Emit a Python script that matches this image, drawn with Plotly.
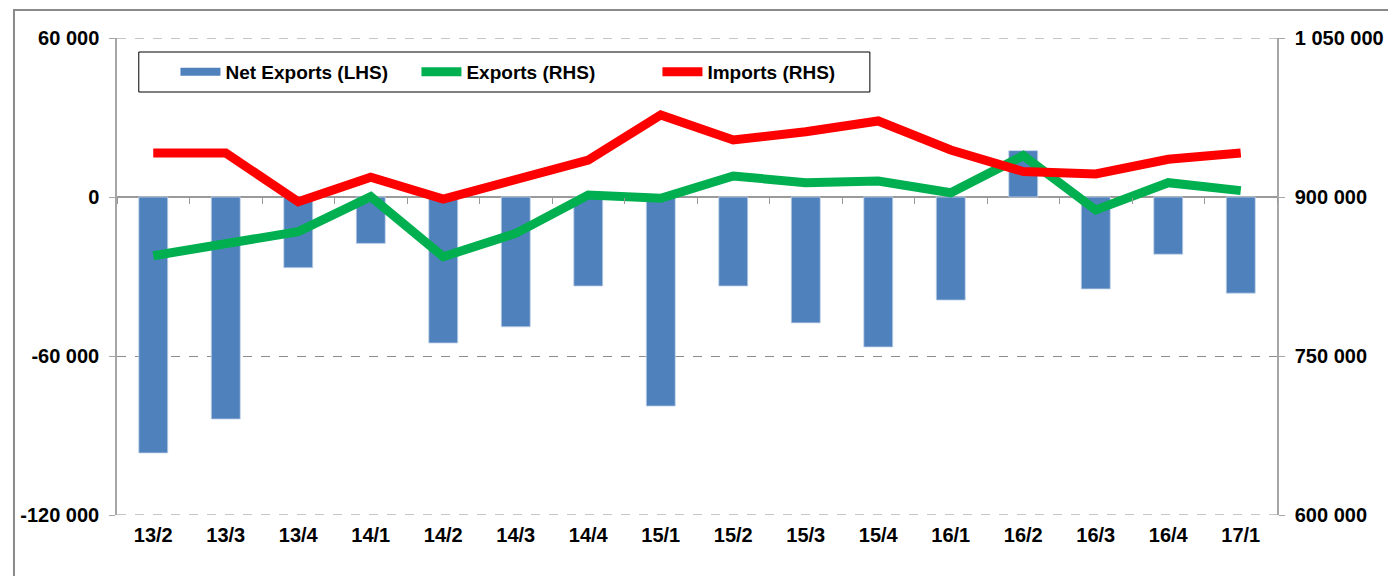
import plotly.graph_objects as go

categories = ["13/2", "13/3", "13/4", "14/1", "14/2", "14/3", "14/4", "15/1",
              "15/2", "15/3", "15/4", "16/1", "16/2", "16/3", "16/4", "17/1"]
net_exports = [-96600, -83800, -26700, -17500, -55100, -49000, -33600, -78900,
               -33600, -47500, -56600, -38900, 17500, -34700, -21600, -36300]
exports = [844600, 856600, 867300, 900300, 843700, 865700, 901900, 898800,
           919800, 913500, 915000, 904000, 939000, 887700, 913500, 906000]
imports = [941500, 941500, 895600, 918600, 898100, 917000, 934900, 977400,
           953800, 961600, 971700, 944300, 924000, 921700, 935600, 941500]

left_ticks = [-120000, -60000, 0, 60000]
left_labels = ["-120 000", "-60 000", "0", "60 000"]
right_ticks = [600000, 750000, 900000, 1050000]
right_labels = ["600 000", "750 000", "900 000", "1 050 000"]

FONT = "Liberation Sans, Arial, sans-serif"
OFF = 8  # page body offset of the rendered figure
W, H = 1396 - OFF, 576 - OFF
# target plot area in screen pixels: x 113..1284, y 38..515
ML, MT = 113 - OFF, 38 - OFF
MR, MB = W - (1284 - OFF), H - (515 - OFF)
PW, PH = W - ML - MR, H - MT - MB


def px_x(sx):
    return (sx - OFF - ML) / PW


def px_y(sy):
    return 1 - (sy - OFF - MT) / PH


fig = go.Figure()
fig.add_trace(go.Bar(x=categories, y=net_exports, name="Net Exports (LHS)",
                     marker=dict(color="#4F81BD", line=dict(color="#C6D5EA", width=0.8)),
                     yaxis="y", showlegend=False, legendgroup="net"))
# legend proxy for the bars (wide flat swatch like the original)
fig.add_trace(go.Scatter(x=[None], y=[None], name="Net Exports (LHS)", mode="lines",
                         line=dict(color="#4F81BD", width=8), legendgroup="net",
                         hoverinfo="skip"))
fig.add_trace(go.Scatter(x=categories, y=exports, name="Exports (RHS)", mode="lines",
                         line=dict(color="#00B050", width=9), yaxis="y2"))
fig.add_trace(go.Scatter(x=categories, y=imports, name="Imports (RHS)", mode="lines",
                         line=dict(color="#FF0000", width=9), yaxis="y2"))
# invisible helper trace to carry tick marks on the zero line
fig.add_trace(go.Scatter(x=categories, y=[None] * len(categories), xaxis="x2", yaxis="y3",
                         showlegend=False, hoverinfo="skip", mode="lines"))

zero_frac = px_y(197)

fig.update_layout(
    width=W, height=H,
    margin=dict(l=ML, r=MR, t=MT, b=MB, pad=0),
    paper_bgcolor="white", plot_bgcolor="rgba(0,0,0,0)",
    font=dict(family=FONT, size=20, color="black", weight="bold"),
    bargap=0.6,
    showlegend=True,
    legend=dict(orientation="h", x=px_x(172), y=px_y(53),
                xanchor="left", yanchor="top",
                borderwidth=0, bgcolor="rgba(0,0,0,0)",
                font=dict(family=FONT, size=19, color="black", weight="bold"),
                entrywidth=186, entrywidthmode="pixels",
                itemwidth=40, traceorder="normal"),
    xaxis=dict(type="category", categoryorder="array", categoryarray=categories,
               showgrid=False, showline=False, ticks="", zeroline=False,
               tickfont=dict(size=20), ticklabelstandoff=6, fixedrange=True),
    xaxis2=dict(type="category", categoryorder="array", categoryarray=categories,
                overlaying="x", anchor="y3", showgrid=False, showline=False,
                ticks="outside", ticklen=6, tickcolor="#9a9a9a", tickwidth=1,
                tickson="boundaries", showticklabels=False, matches="x"),
    yaxis=dict(range=[-120000, 60000], tickvals=left_ticks, ticktext=left_labels,
               showgrid=True, gridcolor="#8c8c8c", griddash="dash", gridwidth=1,
               zeroline=True, zerolinecolor="#9a9a9a", zerolinewidth=1.5,
               showline=True, linecolor="#a6a6a6", linewidth=1.5,
               ticks="outside", ticklen=6, tickcolor="#a6a6a6",
               ticklabelstandoff=6, fixedrange=True),
    yaxis2=dict(range=[600000, 1050000], tickvals=right_ticks, ticktext=right_labels,
                overlaying="y", side="right", showgrid=False, zeroline=False,
                showline=True, linecolor="#a6a6a6", linewidth=1.5,
                ticks="outside", ticklen=6, tickcolor="#a6a6a6",
                ticklabelstandoff=6, fixedrange=True),
    yaxis3=dict(domain=[zero_frac, 1], range=[0, 1], visible=False, fixedrange=True),
)

# dashed gridlines at the top and bottom edges of the left axis range
for gv in (left_ticks[0], left_ticks[-1]):
    fig.add_shape(type="line", xref="paper", yref="y", x0=0, x1=1, y0=gv, y1=gv,
                  line=dict(color="#8c8c8c", width=1, dash="dash"), layer="below")

# outer chart border
fig.add_shape(type="rect", xref="paper", yref="paper",
              x0=px_x(9), x1=px_x(1420), y0=px_y(600), y1=px_y(10),
              line=dict(color="#8a8a8a", width=2), fillcolor="rgba(0,0,0,0)", layer="below")
# legend frame
fig.add_shape(type="rect", xref="paper", yref="paper",
              x0=px_x(135), x1=px_x(873), y0=px_y(92), y1=px_y(52),
              line=dict(color="black", width=1), fillcolor="white", layer="below")

fig.write_html("out.html")
